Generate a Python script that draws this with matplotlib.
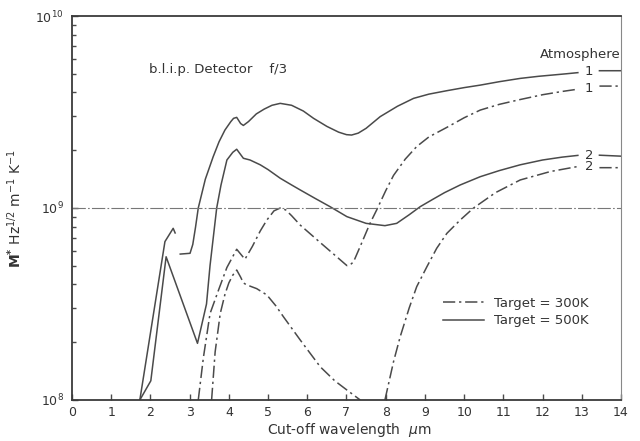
import numpy as np
import matplotlib
matplotlib.use("Agg")
import matplotlib.pyplot as plt
from matplotlib.lines import Line2D

# cut-off wavelength (um) and log10(M*) for each curve, NaN breaks a curve
# atmosphere 1, target 500 K
s1_x = [1.73, 2.37, 2.58, 2.63, np.nan,
        2.76, 3.01, 3.08, 3.15, 3.22, 3.4, 3.6, 3.75, 3.9, 4.05, 4.12, 4.2,
        4.3, 4.37, 4.5, 4.7, 4.9, 5.1, 5.31, 5.6, 5.9, 6.16, 6.5, 6.8, 7.0,
        7.13, 7.3, 7.5, 7.86, 8.3, 8.71, 9.1, 9.56, 10.0, 10.41, 10.9, 11.43,
        11.9, 12.28, 12.6, 12.9, np.nan, 13.45, 14.0]
s1_log = [8.0, 8.825, 8.894, 8.87, np.nan,
          8.76, 8.764, 8.81, 8.9, 9.0, 9.15, 9.267, 9.345, 9.406, 9.45, 9.467,
          9.472, 9.44, 9.43, 9.45, 9.49, 9.515, 9.535, 9.545, 9.535, 9.505,
          9.467, 9.425, 9.395, 9.382, 9.38, 9.39, 9.415, 9.476, 9.53, 9.571,
          9.593, 9.611, 9.627, 9.64, 9.658, 9.675, 9.686, 9.693, 9.699, 9.705,
          np.nan, 9.715, 9.715]

# atmosphere 2, target 500 K
s2_x = [1.73, 2.01, 2.4, 3.2, 3.43, 3.52, 3.69, 3.8, 3.95, 4.1, 4.2, 4.37,
        4.54, 4.8, 5.0, 5.31, 5.6, 5.82, 6.2, 6.58, 7.01, 7.5, 7.98, 8.28,
        8.6, 8.88, 9.2, 9.5, 9.9, 10.41, 10.9, 11.43, 12.0, 12.5, 12.9,
        np.nan, 13.45, 14.0]
s2_log = [8.0, 8.10, 8.746, 8.295, 8.50, 8.70, 9.0, 9.12, 9.25, 9.29, 9.306,
          9.259, 9.25, 9.225, 9.2, 9.155, 9.12, 9.094, 9.05, 9.007, 8.955,
          8.92, 8.908, 8.92, 8.965, 9.007, 9.045, 9.08, 9.12, 9.163, 9.195,
          9.225, 9.25, 9.265, 9.274, np.nan, 9.275, 9.27]

# atmosphere 1, target 300 K
d1_x = [3.22, 3.35, 3.52, 3.75, 3.95, 4.2, 4.41, 4.6, 4.8, 4.97, 5.15, 5.31,
        5.45, 5.6, 5.82, 6.33, 6.75, 7.01, 7.1, 7.18, 7.35, 7.6, 7.77, 8.0,
        8.2, 8.5, 8.79, 9.1, 9.56, 10.0, 10.41, 10.9, 11.43, 12.0, 12.5, 12.87,
        np.nan, 13.45, 14.0]
d1_log = [8.0, 8.22, 8.45, 8.58, 8.69, 8.785, 8.733, 8.80, 8.88, 8.9375,
          8.985, 9.0, 8.99, 8.96, 8.911, 8.82, 8.746, 8.70, 8.705, 8.72, 8.80,
          8.92, 8.99, 9.09, 9.17, 9.255, 9.32, 9.37, 9.42, 9.47, 9.51, 9.54,
          9.565, 9.59, 9.607, 9.618, np.nan, 9.635, 9.635]

# atmosphere 2, target 300 K
d2_x = [3.56, 3.65, 3.78, 3.9, 4.0, 4.1, 4.2, 4.3, 4.37, 4.45, 4.71, 4.97,
        5.2, 5.39, 5.82, 6.33, 6.7, 7.01, 7.35, np.nan,
        7.98, 8.2, 8.37, 8.6, 8.79, 9.05, 9.3, 9.56, 9.9, 10.24, 10.8, 11.43,
        12.2, 12.87, np.nan, 13.45, 14.0]
d2_log = [8.0, 8.25, 8.45, 8.55, 8.61, 8.65, 8.677, 8.64, 8.61, 8.6, 8.58,
          8.547, 8.49, 8.434, 8.3125, 8.173, 8.10, 8.052, 8.0, np.nan,
          8.0, 8.2, 8.33, 8.48, 8.59, 8.694, 8.79, 8.868, 8.9375, 9.0, 9.08,
          9.146, 9.19, 9.215, np.nan, 9.21, 9.21]

curve_labels = ["1", "1", "2", "2"]
label_log = [9.71, 9.625, 9.276, 9.214]
xticks = list(range(0, 15))

INK = "#4a4a4a"
TXT = "#333333"
DASH = (0, (8, 2.5, 1.5, 2.5))

plt.rcParams["font.family"] = "DejaVu Sans"

fig = plt.figure(figsize=(6.4, 4.41), dpi=100)
ax = fig.add_axes([0.1125, 0.093, 0.8578, 0.8707])

ax.plot(s1_x, 10 ** np.array(s1_log), color=INK, lw=1.1)
ax.plot(s2_x, 10 ** np.array(s2_log), color=INK, lw=1.1)
ax.plot(d1_x, 10 ** np.array(d1_log), color=INK, lw=1.1, ls=DASH)
ax.plot(d2_x, 10 ** np.array(d2_log), color=INK, lw=1.1, ls=DASH)

# reference line at 1e9
ax.axhline(1e9, color="#777777", lw=0.8, ls=(0, (12, 2, 1.5, 2)))

ax.set_yscale("log")
ax.set_xlim(0, 14)
ax.set_ylim(1e8, 1e10)
ax.set_xticks(xticks)
ax.set_xticklabels([str(t) for t in xticks], fontsize=9, color=TXT)
ax.set_yticks([1e8, 1e9, 1e10])
ax.set_yticklabels([r"$10^8$", r"$10^9$", r"$10^{10}$"], fontsize=9,
                   color=TXT)
ax.tick_params(axis="both", which="major", direction="in", length=4,
               width=1.0, color=INK, pad=6)
ax.tick_params(axis="y", which="minor", direction="in", length=3, width=1.0,
               color=INK)
ax.tick_params(axis="x", pad=4)

for side in ["left", "bottom", "top"]:
    ax.spines[side].set_color("#3a3a3a")
    ax.spines[side].set_linewidth(1.3)
ax.spines["right"].set_color("#888888")
ax.spines["right"].set_linewidth(0.8)

ax.set_xlabel(r"Cut-off wavelength  $\mu$m", fontsize=10, color=TXT)
ax.xaxis.set_label_coords(0.505, -0.055)
ax.set_ylabel(r"$\mathbf{M^{*}}$ Hz$^{1/2}$ m$^{-1}$ K$^{-1}$", fontsize=10,
              color=TXT)
ax.yaxis.set_label_coords(-0.088, 0.5)

ax.text(1.96, 10 ** 9.72, "b.l.i.p. Detector    f/3", fontsize=9.5,
        color=TXT, va="center")
ax.text(14.0, 10 ** 9.797, "Atmosphere", fontsize=9.5, color=TXT,
        va="center", ha="right")
for lab, ly in zip(curve_labels, label_log):
    ax.text(13.19, 10 ** ly, lab, fontsize=9.5, color=TXT,
            va="center", ha="center")

handles = [Line2D([], [], color=INK, lw=1.1, ls=DASH),
           Line2D([], [], color=INK, lw=1.1)]
ax.legend(handles, ["Target = 300K", "Target = 500K"], loc="upper left",
          bbox_to_anchor=(0.655, 0.30), frameon=False, fontsize=9.5,
          handlelength=3.1, handletextpad=0.75, labelspacing=0.35,
          labelcolor=TXT)

fig.savefig("out.png", dpi=100)
